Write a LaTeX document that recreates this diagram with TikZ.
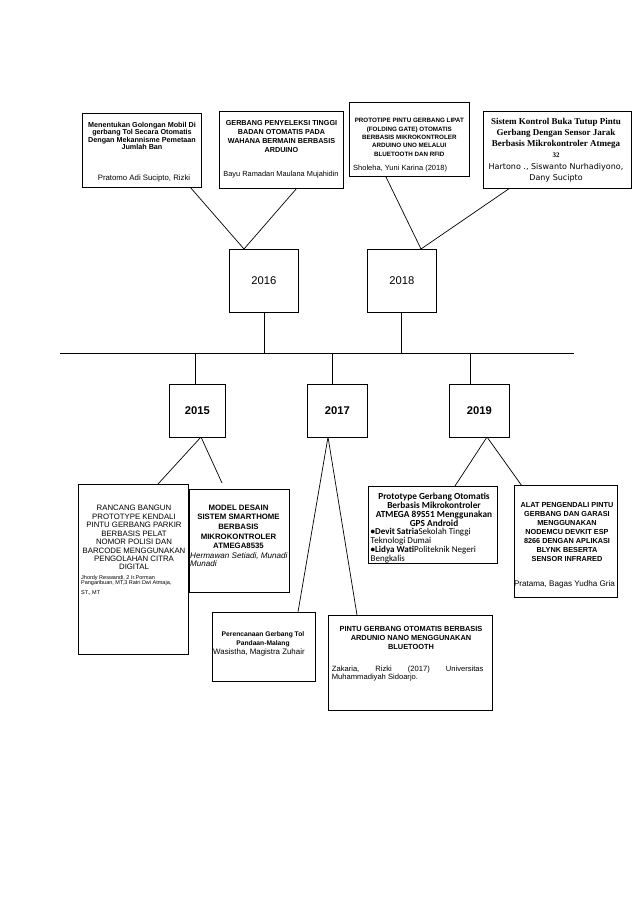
\documentclass[tikz,border=0pt]{standalone}
\usepackage{fontspec}
\setmainfont{Liberation Sans}
\newfontfamily\serifbf{Liberation Serif}
\newfontfamily\dejavu{DejaVu Sans}
\newfontfamily\carlito{Carlito}
\newcommand\fsz[2]{\fontsize{#1}{#2}\selectfont}
\tikzset{
  box/.style={draw, line width=0.7pt, inner sep=0pt, anchor=north west, fill=white},
  conn/.style={line width=0.7pt},
  txt/.style={inner sep=0pt, align=center},
  ltxt/.style={inner sep=0pt, align=left},
  yearbox/.style={box, font=\fsz{11.2}{13}},
}
\begin{document}
\begin{tikzpicture}[x=1pt,y=-1pt]
\useasboundingbox[fill=white] (0,0) rectangle (638,903);

% coordinates for connectors
\coordinate (tl) at (60,353);
\coordinate (tr) at (574,353);
\coordinate (a16) at (244,249);
\coordinate (e1) at (190,187);
\coordinate (e2) at (297,188);
\coordinate (a18) at (421,249);
\coordinate (e3) at (386,177);
\coordinate (e4) at (510,188);
\coordinate (a15) at (201,437);
\coordinate (e5) at (158,484);
\coordinate (e6) at (222,483);
\coordinate (a17) at (328,437);
\coordinate (e9) at (298,612);
\coordinate (e10) at (357,615);
\coordinate (a19) at (487,437);
\coordinate (e7) at (455,486);
\coordinate (e8) at (522,486);
\coordinate (v16) at (264.7,353);
\coordinate (v18) at (401.3,353);
\coordinate (v15) at (195.3,353);
\coordinate (v17) at (332.3,353);
\coordinate (v19) at (470.7,353);

% connectors
\draw[conn] (tl) -- (tr);
\draw[conn] (e1) -- (a16) -- (e2);
\draw[conn] (e3) -- (a18) -- (e4);
\draw[conn] (e5) -- (a15) -- (e6);
\draw[conn] (e9) -- (a17) -- (e10);
\draw[conn] (e7) -- (a19) -- (e8);

% year boxes
\node[yearbox, minimum width=69pt, minimum height=63pt] (y2016) at (229,249) {2016};
\node[yearbox, minimum width=69pt, minimum height=63pt] (y2018) at (367,249) {2018};
\node[yearbox, minimum width=56pt, minimum height=53pt, font=\fsz{11.2}{13}\bfseries] (y2015) at (169,384) {2015};
\node[yearbox, minimum width=60pt, minimum height=53pt, font=\fsz{11.2}{13}\bfseries] (y2017) at (307,384) {2017};
\node[yearbox, minimum width=60pt, minimum height=53pt, font=\fsz{11.2}{13}\bfseries] (y2019) at (449,384) {2019};

\draw[conn] (y2016.south -| v16) -- (v16);
\draw[conn] (y2018.south -| v18) -- (v18);
\draw[conn] (v15) -- (v15 |- y2015.north);
\draw[conn] (v17) -- (v17 |- y2017.north);
\draw[conn] (v19) -- (v19 |- y2019.north);

% top boxes
\node[box, minimum width=119pt, minimum height=74pt] (b1) at (82,113) {};
\node[txt, font=\fsz{7.2}{7.45}\bfseries] (t1) at (142,135.9) {Menentukan Golongan Mobil Di\\gerbang Tol Secara Otomatis\\Dengan Mekannisme Pemetaan\\Jumlah Ban};
\node[txt, font=\fsz{7.8}{9}] (r1) at (144,178) {Pratomo Adi Sucipto, Rizki};

\node[box, minimum width=124pt, minimum height=77pt] (b2) at (219,111) {};
\node[txt, font=\fsz{7.2}{9.1}\bfseries] (t2) at (281.5,136.7) {GERBANG PENYELEKSI TINGGI\\BADAN OTOMATIS PADA\\WAHANA BERMAIN BERBASIS\\ARDUINO};
\node[txt, font=\fsz{7.4}{9}] (r2) at (281,174.7) {Bayu Ramadan Maulana Mujahidin};

\node[box, minimum width=120pt, minimum height=74pt] (b3) at (349,102) {};
\node[txt, font=\fsz{6.25}{8.3}\bfseries] (t3) at (409.3,137.3) {PROTOTIPE PINTU GERBANG LIPAT\\(FOLDING GATE) OTOMATIS\\BERBASIS MIKROKONTROLER\\ARDUINO UNO MELALUI\\BLUETOOTH DAN RFID};
\node[ltxt, anchor=west, font=\fsz{7.5}{9}] (r3) at (353,168.3) {Sholeha, Yuni Karina (2018)};

\node[box, minimum width=148pt, minimum height=77pt] (b4) at (483,111) {};
\node[txt, font=\fsz{9}{11.1}\serifbf\bfseries] (t4) at (556,138) {Sistem Kontrol Buka Tutup Pintu\\Gerbang Dengan Sensor Jarak\\Berbasis Mikrokontroler Atmega\\{\fsz{7}{11.1}32}};
\node[txt, font=\fsz{8}{11.4}\dejavu] (r4) at (556,173) {Hartono ., Siswanto Nurhadiyono,\\Dany Sucipto};

% bottom boxes
\node[box, minimum width=110pt, minimum height=170pt] (b5) at (78,484) {};
\node[txt, font=\fsz{7.8}{8.43}] (t5) at (134,537.8) {RANCANG BANGUN\\PROTOTYPE KENDALI\\PINTU GERBANG PARKIR\\BERBASIS PELAT\\NOMOR POLISI DAN\\BARCODE MENGGUNAKAN\\PENGOLAHAN CITRA\\DIGITAL};
\node[ltxt, anchor=north west, font=\fsz{5.5}{5.4}] (r5) at (81,575.3) {Jhordy Reswandi, 2 Ir.Porman\\Pangaribuan, MT,3 Ratri Dwi Atmaja,\\[4.2pt]ST., MT};

\node[box, minimum width=100pt, minimum height=103pt] (b6) at (189,489) {};
\node[txt, font=\fsz{7.8}{9.6}\bfseries] (t6) at (238.5,526.9) {MODEL DESAIN\\SISTEM SMARTHOME\\BERBASIS\\MIKROKONTROLER\\ATMEGA8535};
\node[ltxt, anchor=west, font=\fsz{8.1}{8}\itshape] (r6) at (190,559.7) {Hermawan Setiadi, Munadi\\Munadi};

\node[box, minimum width=129pt, minimum height=77pt] (b7) at (368,486) {};
\node[txt, font=\fsz{9.3}{8.9}\carlito\bfseries] (t7) at (434,509.7) {Prototype Gerbang Otomatis\\Berbasis Mikrokontroler\\ATMEGA 89S51 Menggunakan\\GPS Android};
\node[ltxt, anchor=west, font=\fsz{9}{8.9}\carlito] (r7) at (370.5,545.6) {\textbf{•Devit Satria}Sekolah Tinggi\\Teknologi Dumai\\\textbf{•Lidya Wati}Politeknik Negeri\\Bengkalis};

\node[box, minimum width=103pt, minimum height=112pt] (b8) at (514,485) {};
\node[txt, font=\fsz{7.3}{9.05}\bfseries] (t8) at (567,532.2) {ALAT PENGENDALI PINTU\\GERBANG DAN GARASI\\MENGGUNAKAN\\NODEMCU DEVKIT ESP\\8266 DENGAN APLIKASI\\BLYNK BESERTA\\SENSOR INFRARED};
\node[txt, font=\fsz{8.1}{9}] (r8) at (564.5,584) {Pratama, Bagas Yudha Gria};

\node[box, minimum width=103pt, minimum height=69pt] (b9) at (212,612) {};
\node[txt, font=\fsz{6.7}{8.3}\bfseries] (t9) at (263,639.2) {Perencanaan Gerbang Tol\\Pandaan-Malang};
\node[ltxt, anchor=west, font=\fsz{7.9}{9}] (r9) at (213,652.7) {Wasistha, Magistra Zuhair};

\node[box, minimum width=164pt, minimum height=95pt] (b10) at (328,615) {};
\node[txt, font=\fsz{7.4}{9.15}\bfseries] (t10) at (411,638.2) {PINTU GERBANG OTOMATIS BERBASIS\\ARDUNIO NANO MENGGUNAKAN\\BLUETOOTH};
\node[ltxt, anchor=west, font=\fsz{7.6}{8.3}] (r10) at (331.7,673.2) {\hbox to 151.6pt{Zakaria,\hfill Rizki\hfill (2017)\hfill Universitas}\\Muhammadiyah Sidoarjo.};
\end{tikzpicture}
\end{document}
